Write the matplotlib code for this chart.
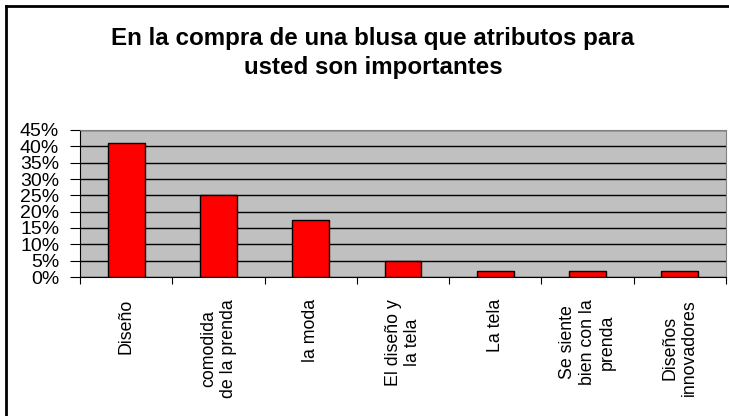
import matplotlib.pyplot as plt
import numpy as np
from matplotlib.lines import Line2D
from matplotlib.ticker import PercentFormatter

plt.rcParams['font.family'] = ['Liberation Sans', 'DejaVu Sans']

# datos
categorias = ["Diseño", "comodida\nde la prenda", "la moda", "El diseño y\nla tela",
              "La tela", "Se siente\nbien con la\nprenda", "Diseños\ninnovadores"]
valores = [0.41, 0.25, 0.175, 0.05, 0.017, 0.017, 0.017]
y_ticks = [0, 0.05, 0.10, 0.15, 0.20, 0.25, 0.30, 0.35, 0.40, 0.45]
titulo = "En la compra de una blusa que atributos para\nusted son importantes"

W, H = 729, 416
fig = plt.figure(figsize=(W / 100, H / 100), dpi=100)
ax = fig.add_axes([80 / W, 1 - 277 / H, 646 / W, 147 / H])

x = np.arange(len(categorias)) + 0.5
ax.bar(x, valores, width=0.4, color='#FF0000', edgecolor='black', linewidth=1, zorder=3)

ax.set_facecolor('#C0C0C0')
ax.set_xlim(0, len(categorias))
ax.set_ylim(0, 0.45)
ax.set_yticks(y_ticks)
ax.yaxis.set_major_formatter(PercentFormatter(1.0, decimals=0))
ax.grid(axis='y', color='black', linewidth=1, zorder=1)

# marcas entre categorias, etiquetas en el centro
ax.set_xticks(np.arange(len(categorias) + 1))
ax.set_xticklabels([])
ax.set_xticks(x, minor=True)
ax.set_xticklabels(categorias, minor=True, rotation=90, va='top', ha='center',
                   multialignment='center', fontsize=12.8, linespacing=1.2)
ax.tick_params(axis='x', which='major', direction='out', length=5, color='black')
ax.tick_params(axis='x', which='minor', length=0, pad=16)
ax.tick_params(axis='y', direction='out', length=7, labelsize=14, pad=8)

for s in ['top', 'right']:
    ax.spines[s].set_color('#808080')
for s in ['left', 'bottom']:
    ax.spines[s].set_color('black')

fig.text(373 / W, 1 - 53 / H, titulo, ha='center', va='center', fontsize=17.4,
         fontweight='bold', linespacing=1.3)

# marco del area del grafico
fig.add_artist(Line2D([5.5 / W, 5.5 / W], [0, 1 - 5.5 / H], color='black', linewidth=2))
fig.add_artist(Line2D([5.5 / W, 1], [1 - 5.5 / H, 1 - 5.5 / H], color='black', linewidth=2))

fig.savefig("out.png", dpi=100)
